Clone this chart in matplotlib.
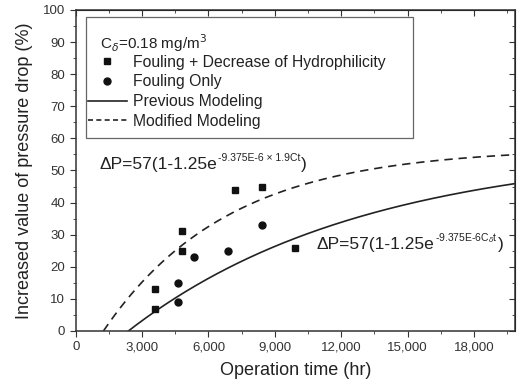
import numpy as np
import matplotlib
matplotlib.use('Agg')
import matplotlib.pyplot as plt
from matplotlib.ticker import MultipleLocator, FuncFormatter
from matplotlib.lines import Line2D
from matplotlib.patches import Rectangle

plt.rcParams['font.family'] = ['Liberation Sans', 'DejaVu Sans']

# measured points
sq_t = [3600, 3600, 4800, 4800, 7200, 8400, 9900]
sq_v = [13, 7, 31, 25, 44, 45, 26]
ci_t = [4600, 4600, 5350, 6900, 8400]
ci_v = [15, 9, 23, 25, 33]

# model: dP = A(1 - B exp(-k t)), modified model uses k * 1.9
A, B, k = 57, 1.25, 9.375e-5
factor = 1.9

fig = plt.figure(figsize=(5.21, 3.83), dpi=100)
ax = fig.add_axes([0.1453, 0.1358, 0.8432, 0.8381])

for kk, ls in [(k, '-'), (k * factor, (0, (5, 3.5)))]:
    t0 = np.log(B) / kk
    t = np.linspace(t0, 20000, 300)
    ax.plot(t, A * (1 - B * np.exp(-kk * t)), color='#222222', lw=1.2, ls=ls)

ax.plot(sq_t, sq_v, 's', color='#111111', ms=5, ls='none')
ax.plot(ci_t, ci_v, 'o', color='#111111', ms=5, ls='none')

ax.set_xlim(0, 19850)
ax.set_ylim(0, 100)
ax.xaxis.set_major_locator(MultipleLocator(3000))
ax.xaxis.set_minor_locator(MultipleLocator(1500))
ax.yaxis.set_major_locator(MultipleLocator(10))
ax.yaxis.set_minor_locator(MultipleLocator(5))
ax.xaxis.set_major_formatter(FuncFormatter(lambda x, _: f'{int(x):,}'))
ax.tick_params(which='both', direction='out', labelsize=9.5, colors='#333333')
ax.tick_params(which='major', length=4)
ax.tick_params(which='minor', length=2.5)
for s in ax.spines.values():
    s.set_linewidth(1.1)
    s.set_color('#333333')

# inward ticks on top and right
axt = ax.secondary_xaxis('top')
axt.xaxis.set_major_locator(MultipleLocator(3000))
axt.xaxis.set_minor_locator(MultipleLocator(1500))
axt.tick_params(which='both', direction='in', labeltop=False, colors='#333333')
axt.tick_params(which='major', length=4)
axt.tick_params(which='minor', length=2.5)
axr = ax.secondary_yaxis('right')
axr.yaxis.set_major_locator(MultipleLocator(10))
axr.yaxis.set_minor_locator(MultipleLocator(5))
axr.tick_params(which='both', direction='in', labelright=False, colors='#333333')
axr.tick_params(which='major', length=4)
axr.tick_params(which='minor', length=2.5)

ax.set_xlabel('Operation time (hr)', fontsize=13, color='#222222', labelpad=6)
ax.set_ylabel('Increased value of pressure drop (%)', fontsize=13, color='#222222', labelpad=7)

# legend: frame drawn by hand so the padding can be uneven like the original
ax.add_patch(Rectangle((0.0234, 0.601), 0.745, 0.377, transform=ax.transAxes,
                       facecolor='white', edgecolor='#666666', lw=0.9, zorder=4))
ax.text(0.0553, 0.897, 'C$_\\delta$=0.18 mg/m$^3$', fontsize=11, color='#222222',
        transform=ax.transAxes, va='center', zorder=5)
handles = [
    Line2D([], [], marker='s', color='#111111', ls='none', ms=5),
    Line2D([], [], marker='o', color='#111111', ls='none', ms=5),
    Line2D([], [], color='#222222', lw=1.2),
    Line2D([], [], color='#222222', lw=1.2, ls=(0, (3, 2))),
]
labels = ['Fouling + Decrease of Hydrophilicity', 'Fouling Only',
          'Previous Modeling', 'Modified Modeling']
leg = ax.legend(handles, labels, loc='upper left', bbox_to_anchor=(0.028, 0.861),
                fontsize=11.3, frameon=False, handlelength=2.48, handletextpad=0.38,
                labelspacing=0.3, borderpad=0, borderaxespad=0)
leg.set_zorder(6)
for txt in leg.get_texts():
    txt.set_color('#222222')

def equation(x, y, sup):
    t = ax.text(x, y, '\u0394P=57(1-1.25e', fontsize=12.5, color='#222222',
                transform=ax.transAxes, va='center')
    s = ax.annotate(sup, xy=(1, 0.93), xycoords=t, xytext=(0.5, 0),
                    textcoords='offset points', fontsize=7.5, color='#222222',
                    va='center', ha='left')
    ax.annotate(')', xy=(1, 0.5), xycoords=(s, t), xytext=(0.5, 0),
                textcoords='offset points', fontsize=12.5, color='#222222',
                va='center', ha='left')

equation(0.054, 0.519, '-9.375E-6 \u00d7 1.9Ct')
equation(0.548, 0.268, '-9.375E-6C$_\\delta$t')

fig.savefig('out.png', dpi=100)
